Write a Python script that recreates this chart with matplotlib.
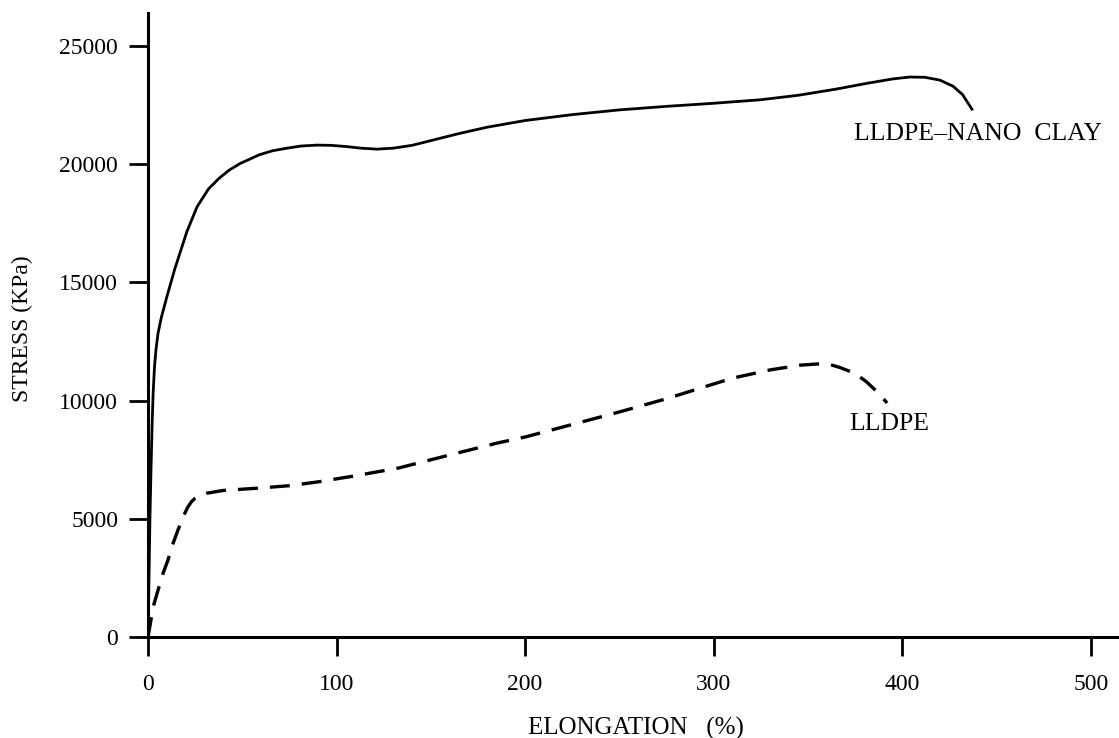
import matplotlib
matplotlib.use("Agg")
import matplotlib.pyplot as plt

plt.rcParams['font.family'] = ['Liberation Serif', 'DejaVu Serif']

# LLDPE-nano clay (solid)
clay_x = [0, 0.5, 1, 1.6, 2.2, 2.7, 3.4, 4.2, 5.3, 7, 10, 14.3, 20.6, 26, 32,
          37.6, 43, 48.8, 59, 66, 73.7, 81, 89.5, 97, 105, 113, 121.5, 130, 140,
          150, 165, 180, 200, 225, 250, 275, 300, 325, 345, 365, 381, 395, 404,
          412, 420, 427, 432, 437]
clay_y = [0, 2500, 5000, 7200, 9100, 10300, 11400, 12150, 12850, 13500, 14400,
          15600, 17150, 18200, 18950, 19400, 19750, 20030, 20400, 20570, 20680,
          20770, 20810, 20800, 20750, 20680, 20640, 20680, 20800, 21000, 21300,
          21570, 21850, 22100, 22300, 22450, 22580, 22730, 22920, 23180, 23420,
          23610, 23690, 23680, 23560, 23300, 22950, 22330]

# LLDPE (dashed)
pe_x = [0, 1.5, 2.7, 5, 8, 10.6, 13, 16, 19, 21, 23, 25, 28, 31, 40, 59, 75,
        90, 110, 133, 160, 185, 200, 225, 250, 275, 293, 310, 330, 346, 355,
        362, 367, 375, 381, 387, 392]
pe_y = [0, 700, 1270, 1900, 2700, 3260, 3900, 4550, 5150, 5480, 5720, 5870,
        6000, 6080, 6200, 6300, 6400, 6560, 6820, 7150, 7700, 8200, 8460, 8990,
        9520, 10080, 10530, 10950, 11300, 11500, 11550, 11520, 11400, 11150,
        10800, 10350, 9900]

fig = plt.figure(figsize=(11.19, 7.38), dpi=100)
ax = fig.add_axes([0.1323, 0.1369, 0.8677, 0.8455])

ax.plot(clay_x, clay_y, color='black', lw=2.0)
ax.plot(pe_x, pe_y, color='black', lw=2.4, dashes=(6, 3.6))

ax.text(374.5, 21280, 'LLDPE\u2013NANO  CLAY', fontsize=18.5, va='center', ha='left')
ax.text(372, 9010, 'LLDPE', fontsize=18.5, va='center', ha='left')

ax.set_xlim(0, 515)
ax.set_ylim(0, 26400)
ax.set_xticks([0, 100, 200, 300, 400, 500])
ax.set_yticks([0, 5000, 10000, 15000, 20000, 25000])

for s in ['top', 'right']:
    ax.spines[s].set_visible(False)
for s in ['left', 'bottom']:
    ax.spines[s].set_linewidth(2.2)

ax.tick_params(direction='out', length=13.5, width=2, labelsize=17)
ax.tick_params(axis='x', pad=13)
ax.tick_params(axis='y', pad=8)

ax.set_xlabel('ELONGATION   (%)', fontsize=18)
ax.set_ylabel('STRESS (KPa)', fontsize=17)
ax.xaxis.set_label_coords(0.5026, -0.128)
ax.yaxis.set_label_coords(-0.118, 0.494)

fig.savefig('out.png', dpi=100)
